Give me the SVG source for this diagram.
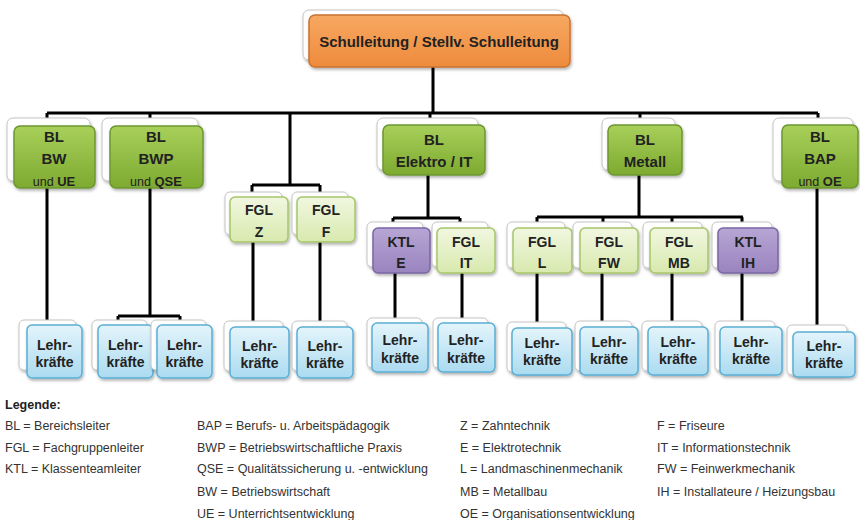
<svg xmlns="http://www.w3.org/2000/svg" width="860" height="520" viewBox="0 0 860 520">
<defs>
<linearGradient id="gOr" x1="0" y1="0" x2="0" y2="1"><stop offset="0" stop-color="#F7A862"/><stop offset="1" stop-color="#EE8B3C"/></linearGradient>
<linearGradient id="gGr" x1="0" y1="0" x2="0" y2="1"><stop offset="0" stop-color="#A8D05A"/><stop offset="1" stop-color="#7DAA30"/></linearGradient>
<linearGradient id="gLg" x1="0" y1="0" x2="0" y2="1"><stop offset="0" stop-color="#F1F7E0"/><stop offset="1" stop-color="#D8E9AE"/></linearGradient>
<linearGradient id="gPu" x1="0" y1="0" x2="0" y2="1"><stop offset="0" stop-color="#B7A6D4"/><stop offset="1" stop-color="#9A84BF"/></linearGradient>
<linearGradient id="gBl" x1="0" y1="0" x2="0" y2="1"><stop offset="0" stop-color="#E4F4FB"/><stop offset="1" stop-color="#ABDBF0"/></linearGradient>
<filter id="sh" x="-20%" y="-20%" width="140%" height="150%"><feDropShadow dx="1" dy="2" stdDeviation="1.5" flood-color="#000" flood-opacity="0.3"/></filter>
<style>
.back{fill:#fff;stroke:#C4C4C4;stroke-width:1;filter:url(#sh)}
.or{fill:url(#gOr);stroke:#C9732F;stroke-width:1.5;filter:url(#sh)}
.gr{fill:url(#gGr);stroke:#6C9630;stroke-width:1.5;filter:url(#sh)}
.lg{fill:url(#gLg);stroke:#A6C66A;stroke-width:1.5;filter:url(#sh)}
.pu{fill:url(#gPu);stroke:#7B66A5;stroke-width:1.5;filter:url(#sh)}
.bl{fill:url(#gBl);stroke:#5AAFD5;stroke-width:1.5;filter:url(#sh)}
text{font-family:"Liberation Sans",Arial,sans-serif;fill:#222}
.t{font-weight:bold;text-anchor:middle}
.t15{font-size:15px}
.t14{font-size:14px}
.und{font-weight:normal;font-size:12.5px}
.lg-t{font-size:12.5px;fill:#333}
.con{fill:none;stroke:#000;stroke-width:3}
</style>
</defs>
<rect width="860" height="520" fill="#fff"/>

<g id="connectors" class="con">
<path d="M433 67V113M47 113H818M47 113V118M150 113V118M290 113V185M430 113V118M640 113V118M818 113V118"/>
<path d="M47 188V320M150 188V316M118 316H180M118 316V321M180 316V321"/>
<path d="M252 185H320M252 185V192M320 185V192M253 242V321M320 242V321"/>
<path d="M428 175V218M393 218H460M393 218V222M460 218V222M395 273V318M462 273V318"/>
<path d="M639 175V217M537 217H743M537 217V222M603 217V222M672 217V222M742 217V222M537 273V322M602 273V321M672 273V321M742 273V321"/>
<path d="M817 188V325"/>
</g>

<g id="schulleitung">
<rect class="back" x="303" y="10" width="260" height="50" rx="6"/>
<rect class="or" x="309" y="15" width="261" height="52" rx="6"/>
<text class="t t15" x="439" y="47">Schulleitung  / Stellv. Schulleitung</text>
</g>

<g id="bl-bw">
<rect class="back" x="7" y="118" width="83" height="63" rx="6"/>
<rect class="gr" x="14" y="126" width="81" height="62" rx="6"/>
<text class="t t15" x="54" y="142">BL</text>
<text class="t t15" x="54" y="164">BW</text>
<text class="t" x="54" y="186" font-size="13"><tspan class="und">und </tspan>UE</text>
</g>

<g id="bl-bwp">
<rect class="back" x="102" y="118" width="96" height="63" rx="6"/>
<rect class="gr" x="110" y="126" width="93" height="62" rx="6"/>
<text class="t t15" x="156" y="142">BL</text>
<text class="t t15" x="156" y="164">BWP</text>
<text class="t" x="156" y="186" font-size="13"><tspan class="und">und </tspan>QSE</text>
</g>

<g id="bl-elektro">
<rect class="back" x="377" y="118" width="101" height="52" rx="6"/>
<rect class="gr" x="383" y="125" width="102" height="50" rx="6"/>
<text class="t t15" x="434" y="145">BL</text>
<text class="t t15" x="434" y="167">Elektro / IT</text>
</g>

<g id="bl-metall">
<rect class="back" x="602" y="118" width="73" height="52" rx="6"/>
<rect class="gr" x="608" y="125" width="74" height="50" rx="6"/>
<text class="t t15" x="645" y="145">BL</text>
<text class="t t15" x="645" y="167">Metall</text>
</g>

<g id="bl-bap">
<rect class="back" x="773" y="118" width="80" height="63" rx="6"/>
<rect class="gr" x="782" y="125" width="76" height="63" rx="6"/>
<text class="t t15" x="820" y="142">BL</text>
<text class="t t15" x="820" y="164">BAP</text>
<text class="t" x="820" y="186" font-size="13"><tspan class="und">und </tspan>OE</text>
</g>

<g id="fgl-z">
<rect class="back" x="225" y="192" width="57" height="43" rx="5"/>
<rect class="lg" x="230" y="197" width="58" height="45" rx="5"/>
<text class="t t14" x="259" y="215">FGL</text>
<text class="t t14" x="259" y="237">Z</text>
</g>
<g id="fgl-f">
<rect class="back" x="292" y="192" width="56" height="43" rx="5"/>
<rect class="lg" x="297" y="197" width="58" height="45" rx="5"/>
<text class="t t14" x="326" y="215">FGL</text>
<text class="t t14" x="326" y="237">F</text>
</g>
<g id="ktl-e">
<rect class="back" x="367" y="222" width="56" height="45" rx="5"/>
<rect class="pu" x="373" y="228" width="57" height="45" rx="5"/>
<text class="t t14" x="401" y="247">KTL</text>
<text class="t t14" x="401" y="268">E</text>
</g>
<g id="fgl-it">
<rect class="back" x="432" y="222" width="56" height="45" rx="5"/>
<rect class="lg" x="437" y="228" width="58" height="45" rx="5"/>
<text class="t t14" x="466" y="247">FGL</text>
<text class="t t14" x="466" y="268">IT</text>
</g>
<g id="fgl-l">
<rect class="back" x="507" y="222" width="58" height="46" rx="5"/>
<rect class="lg" x="513" y="228" width="59" height="45" rx="5"/>
<text class="t t14" x="542" y="247">FGL</text>
<text class="t t14" x="542" y="268">L</text>
</g>
<g id="fgl-fw">
<rect class="back" x="573" y="222" width="59" height="46" rx="5"/>
<rect class="lg" x="580" y="228" width="58" height="45" rx="5"/>
<text class="t t14" x="609" y="247">FGL</text>
<text class="t t14" x="609" y="268">FW</text>
</g>
<g id="fgl-mb">
<rect class="back" x="643" y="222" width="59" height="46" rx="5"/>
<rect class="lg" x="650" y="228" width="58" height="45" rx="5"/>
<text class="t t14" x="679" y="247">FGL</text>
<text class="t t14" x="679" y="268">MB</text>
</g>
<g id="ktl-ih">
<rect class="back" x="712" y="222" width="60" height="46" rx="5"/>
<rect class="pu" x="718" y="228" width="60" height="45" rx="5"/>
<text class="t t14" x="748" y="247">KTL</text>
<text class="t t14" x="748" y="268">IH</text>
</g>

<g id="lk1"><rect class="back" x="19" y="320" width="57" height="50" rx="5"/><rect class="bl" x="27" y="325" width="55" height="53" rx="5"/><text class="t t14" x="54.5" y="350">Lehr-</text><text class="t t14" x="54.5" y="367">kräfte</text></g>
<g id="lk2"><rect class="back" x="92" y="320" width="55" height="50" rx="5"/><rect class="bl" x="98" y="325" width="55" height="53" rx="5"/><text class="t t14" x="125.5" y="350">Lehr-</text><text class="t t14" x="125.5" y="367">kräfte</text></g>
<g id="lk3"><rect class="back" x="151" y="320" width="55" height="50" rx="5"/><rect class="bl" x="157" y="325" width="55" height="53" rx="5"/><text class="t t14" x="184.5" y="350">Lehr-</text><text class="t t14" x="184.5" y="367">kräfte</text></g>
<g id="lk4"><rect class="back" x="224" y="321" width="59" height="50" rx="5"/><rect class="bl" x="230" y="327" width="59" height="51" rx="5"/><text class="t t14" x="259.5" y="351">Lehr-</text><text class="t t14" x="259.5" y="368">kräfte</text></g>
<g id="lk5"><rect class="back" x="292" y="321" width="55" height="50" rx="5"/><rect class="bl" x="297" y="327" width="56" height="51" rx="5"/><text class="t t14" x="325" y="351">Lehr-</text><text class="t t14" x="325" y="368">kräfte</text></g>
<g id="lk6"><rect class="back" x="367" y="318" width="55" height="50" rx="5"/><rect class="bl" x="372" y="323" width="56" height="49" rx="5"/><text class="t t14" x="400" y="345">Lehr-</text><text class="t t14" x="400" y="363">kräfte</text></g>
<g id="lk7"><rect class="back" x="433" y="318" width="55" height="50" rx="5"/><rect class="bl" x="438" y="323" width="57" height="49" rx="5"/><text class="t t14" x="466" y="345">Lehr-</text><text class="t t14" x="466" y="363">kräfte</text></g>
<g id="lk8"><rect class="back" x="507" y="322" width="59" height="50" rx="5"/><rect class="bl" x="512" y="328" width="60" height="47" rx="5"/><text class="t t14" x="542" y="348">Lehr-</text><text class="t t14" x="542" y="365">kräfte</text></g>
<g id="lk9"><rect class="back" x="575" y="321" width="57" height="50" rx="5"/><rect class="bl" x="580" y="327" width="58" height="48" rx="5"/><text class="t t14" x="609" y="347">Lehr-</text><text class="t t14" x="609" y="364">kräfte</text></g>
<g id="lk10"><rect class="back" x="642" y="321" width="60" height="50" rx="5"/><rect class="bl" x="648" y="327" width="60" height="48" rx="5"/><text class="t t14" x="678" y="347">Lehr-</text><text class="t t14" x="678" y="364">kräfte</text></g>
<g id="lk11"><rect class="back" x="715" y="321" width="60" height="50" rx="5"/><rect class="bl" x="720" y="327" width="62" height="48" rx="5"/><text class="t t14" x="751" y="347">Lehr-</text><text class="t t14" x="751" y="364">kräfte</text></g>
<g id="lk12"><rect class="back" x="787" y="325" width="60" height="50" rx="5"/><rect class="bl" x="793" y="332" width="62" height="45" rx="5"/><text class="t t14" x="824" y="351">Lehr-</text><text class="t t14" x="824" y="368">kräfte</text></g>

<g id="legend">
<text x="5" y="409" font-size="12.5" font-weight="bold" fill="#222">Legende:</text>
<text class="lg-t" x="5" y="430">BL = Bereichsleiter</text>
<text class="lg-t" x="5" y="452">FGL = Fachgruppenleiter</text>
<text class="lg-t" x="5" y="473">KTL = Klassenteamleiter</text>
<text class="lg-t" x="197" y="430">BAP = Berufs- u. Arbeitspädagogik</text>
<text class="lg-t" x="197" y="452">BWP = Betriebswirtschaftliche Praxis</text>
<text class="lg-t" x="197" y="473">QSE = Qualitätssicherung u. -entwicklung</text>
<text class="lg-t" x="197" y="496">BW = Betriebswirtschaft</text>
<text class="lg-t" x="197" y="518">UE = Unterrichtsentwicklung</text>
<text class="lg-t" x="460" y="430">Z = Zahntechnik</text>
<text class="lg-t" x="460" y="452">E = Elektrotechnik</text>
<text class="lg-t" x="460" y="473">L = Landmaschinenmechanik</text>
<text class="lg-t" x="460" y="496">MB = Metallbau</text>
<text class="lg-t" x="460" y="518">OE = Organisationsentwicklung</text>
<text class="lg-t" x="657" y="430">F = Friseure</text>
<text class="lg-t" x="657" y="452">IT = Informationstechnik</text>
<text class="lg-t" x="657" y="473">FW = Feinwerkmechanik</text>
<text class="lg-t" x="657" y="496">IH = Installateure / Heizungsbau</text>
</g>
</svg>
